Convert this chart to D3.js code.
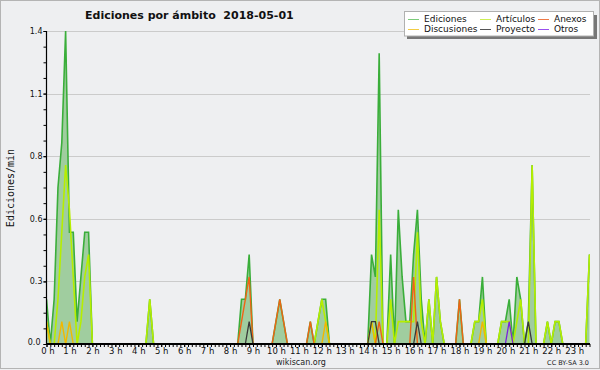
<!DOCTYPE html>
<html lang="es">
<head>
<meta charset="UTF-8">
<title>Ediciones por ámbito</title>
<script src="https://cdn.jsdelivr.net/npm/d3@7"></script>
<style>
  body { margin: 0; background: #fff; }
  svg { display: block; font-family: "DejaVu Sans", sans-serif; }
</style>
</head>
<body>
<div id="chart"></div>
<script>
// ediciones/min por intervalo de 10 minutos, desde 0:00 hasta 23:40 (143 valores)
const ediciones = [
  0.2, 0, 0.2, 0.7, 0.9, 1.4, 0.5, 0.5, 0.1, 0.3, 0.5, 0.5,
  0, 0, 0, 0, 0, 0, 0, 0, 0, 0, 0, 0,
  0, 0, 0, 0.2, 0, 0, 0, 0, 0, 0, 0, 0,
  0, 0, 0, 0, 0, 0, 0, 0, 0, 0, 0, 0,
  0, 0, 0, 0.2, 0.2, 0.4, 0, 0, 0, 0, 0, 0,
  0.1, 0.2, 0.1, 0, 0, 0, 0, 0, 0, 0.1, 0, 0.1,
  0.2, 0.2, 0, 0, 0, 0, 0, 0, 0, 0, 0, 0,
  0, 0.4, 0.3, 1.3, 0, 0, 0.4, 0, 0.6, 0.3, 0.1, 0.1,
  0.4, 0.6, 0.2, 0, 0.2, 0, 0.3, 0.1, 0, 0, 0, 0,
  0.2, 0, 0, 0, 0.1, 0.1, 0.3, 0, 0, 0, 0, 0.1,
  0.1, 0.2, 0, 0.3, 0.2, 0, 0.1, 0.8, 0, 0, 0, 0.1,
  0, 0.1, 0.1, 0, 0, 0, 0, 0, 0, 0, 0.4
];
const articulos = [
  0.1, 0, 0, 0.2, 0.5, 0.8, 0.6, 0.3, 0, 0.1, 0.3, 0.4,
  0, 0, 0, 0, 0, 0, 0, 0, 0, 0, 0, 0,
  0, 0, 0, 0.2, 0, 0, 0, 0, 0, 0, 0, 0,
  0, 0, 0, 0, 0, 0, 0, 0, 0, 0, 0, 0,
  0, 0, 0, 0, 0, 0, 0, 0, 0, 0, 0, 0,
  0, 0, 0, 0, 0, 0, 0, 0, 0, 0, 0, 0.1,
  0.2, 0.1, 0, 0, 0, 0, 0, 0, 0, 0, 0, 0,
  0, 0.1, 0, 0.6, 0, 0, 0.2, 0, 0.1, 0.1, 0.1, 0.1,
  0.1, 0.5, 0.1, 0, 0.2, 0, 0.3, 0.1, 0, 0, 0, 0,
  0, 0, 0, 0, 0.1, 0.1, 0.2, 0, 0, 0, 0, 0.1,
  0.1, 0.1, 0, 0.1, 0.2, 0, 0, 0.8, 0, 0, 0, 0.1,
  0, 0.1, 0.1, 0, 0, 0, 0, 0, 0, 0, 0.4
];
const anexos = [
  0, 0, 0, 0, 0, 0, 0, 0, 0, 0, 0, 0,
  0, 0, 0, 0, 0, 0, 0, 0, 0, 0, 0, 0,
  0, 0, 0, 0, 0, 0, 0, 0, 0, 0, 0, 0,
  0, 0, 0, 0, 0, 0, 0, 0, 0, 0, 0, 0,
  0, 0, 0, 0.1, 0.2, 0.3, 0, 0, 0, 0, 0, 0,
  0.1, 0.2, 0.1, 0, 0, 0, 0, 0, 0, 0.1, 0, 0,
  0, 0, 0, 0, 0, 0, 0, 0, 0, 0, 0, 0,
  0, 0, 0, 0.1, 0, 0, 0, 0, 0, 0, 0, 0,
  0.3, 0, 0, 0, 0, 0, 0, 0, 0, 0, 0, 0,
  0.2, 0, 0, 0, 0, 0, 0, 0, 0, 0, 0, 0,
  0, 0, 0, 0, 0, 0, 0, 0, 0, 0, 0, 0,
  0, 0, 0, 0, 0, 0, 0, 0, 0, 0, 0
];
const discusiones = [
  0.1, 0, 0, 0, 0.1, 0, 0.1, 0, 0, 0, 0, 0,
  0, 0, 0, 0, 0, 0, 0, 0, 0, 0, 0, 0,
  0, 0, 0, 0, 0, 0, 0, 0, 0, 0, 0, 0,
  0, 0, 0, 0, 0, 0, 0, 0, 0, 0, 0, 0,
  0, 0, 0, 0, 0, 0, 0, 0, 0, 0, 0, 0,
  0, 0, 0, 0, 0, 0, 0, 0, 0, 0, 0, 0,
  0, 0.1, 0, 0, 0, 0, 0, 0, 0, 0, 0, 0,
  0, 0.1, 0, 0, 0, 0, 0, 0, 0, 0, 0, 0,
  0, 0, 0, 0, 0, 0, 0, 0, 0, 0, 0, 0,
  0, 0, 0, 0, 0, 0, 0.1, 0, 0, 0, 0, 0,
  0, 0, 0, 0, 0, 0, 0, 0, 0, 0, 0, 0,
  0, 0, 0, 0, 0, 0, 0, 0, 0, 0, 0
];
const proyecto = [
  0, 0, 0, 0, 0, 0, 0, 0, 0, 0, 0, 0,
  0, 0, 0, 0, 0, 0, 0, 0, 0, 0, 0, 0,
  0, 0, 0, 0, 0, 0, 0, 0, 0, 0, 0, 0,
  0, 0, 0, 0, 0, 0, 0, 0, 0, 0, 0, 0,
  0, 0, 0, 0, 0, 0.1, 0, 0, 0, 0, 0, 0,
  0, 0, 0, 0, 0, 0, 0, 0, 0, 0, 0, 0,
  0, 0, 0, 0, 0, 0, 0, 0, 0, 0, 0, 0,
  0, 0.1, 0.1, 0, 0, 0, 0, 0, 0, 0, 0, 0,
  0, 0.1, 0, 0, 0, 0, 0, 0, 0, 0, 0, 0,
  0, 0, 0, 0, 0, 0, 0, 0, 0, 0, 0, 0,
  0, 0, 0, 0, 0, 0, 0.1, 0, 0, 0, 0, 0,
  0, 0, 0, 0, 0, 0, 0, 0, 0, 0, 0
];
const otros = [
  0, 0, 0, 0, 0, 0, 0, 0, 0, 0, 0, 0,
  0, 0, 0, 0, 0, 0, 0, 0, 0, 0, 0, 0,
  0, 0, 0, 0, 0, 0, 0, 0, 0, 0, 0, 0,
  0, 0, 0, 0, 0, 0, 0, 0, 0, 0, 0, 0,
  0, 0, 0, 0, 0, 0, 0, 0, 0, 0, 0, 0,
  0, 0, 0, 0, 0, 0, 0, 0, 0, 0, 0, 0,
  0, 0, 0, 0, 0, 0, 0, 0, 0, 0, 0, 0,
  0, 0, 0, 0, 0, 0, 0, 0, 0, 0, 0, 0,
  0, 0, 0, 0, 0, 0, 0, 0, 0, 0, 0, 0,
  0, 0, 0, 0, 0, 0, 0, 0, 0, 0, 0, 0,
  0, 0.1, 0, 0, 0, 0, 0, 0, 0, 0, 0, 0,
  0, 0, 0, 0, 0, 0, 0, 0, 0, 0, 0
];
const hourLabels = ["0 h", "1 h", "2 h", "3 h", "4 h", "5 h", "6 h", "7 h", "8 h", "9 h", "10 h", "11 h",
  "12 h", "13 h", "14 h", "15 h", "16 h", "17 h", "18 h", "19 h", "20 h", "21 h", "22 h", "23 h"];
const yTicks = [0, 0.28, 0.56, 0.84, 1.12, 1.4];

const width = 600, height = 370;
const pLeft = 46.5, pRight = 590, pTop = 31, pBottom = 344;
const bg = "#eeeff1";

const svg = d3.select("#chart").append("svg")
  .attr("width", width).attr("height", height);

svg.append("rect").attr("width", width).attr("height", height).attr("fill", bg);
svg.append("rect").attr("x", 0.5).attr("y", 0.5).attr("width", 599).attr("height", 368)
  .attr("fill", "none").attr("stroke", "#b4b4b4");

const x = d3.scaleLinear().domain([0, ediciones.length - 1]).range([pLeft, 589.5]);
const y = d3.scaleLinear().domain([0, 1.4]).range([pBottom, pTop]);

svg.append("clipPath").attr("id", "clip").append("rect")
  .attr("x", pLeft).attr("y", pTop - 2).attr("width", pRight - pLeft).attr("height", pBottom - pTop + 2);

// rejilla
svg.append("g").selectAll("line").data(yTicks.slice(1)).join("line")
  .attr("x1", pLeft).attr("x2", pRight)
  .attr("y1", d => Math.round(y(d)) + 0.5).attr("y2", d => Math.round(y(d)) + 0.5)
  .attr("stroke", "#cbcbcb");

const plot = svg.append("g").attr("clip-path", "url(#clip)");

const area = d3.area().x((d, i) => x(i)).y0(pBottom).y1(d => y(d));
const line = d3.line().x((d, i) => x(i)).y(d => y(d));

plot.append("path").datum(ediciones).attr("d", area).attr("fill", "#a0cd9f");

const series = [
  { values: ediciones, color: "#3aae3a", w: 1.6 },
  { values: articulos, color: "#b6ee00", w: 1.6 },
  { values: discusiones, color: "#f2b800", w: 1.4 },
  { values: anexos, color: "#f06414", w: 1.4 },
  { values: proyecto, color: "#3a3a3a", w: 1.3 },
  { values: otros, color: "#7a22dd", w: 1.3 }
];
series.forEach(s => {
  plot.append("path").datum(s.values).attr("d", line)
    .attr("fill", "none").attr("stroke", s.color).attr("stroke-width", s.w)
    .attr("stroke-linejoin", "miter");
});

// eje X
const xMinor = svg.append("g").attr("transform", "translate(0," + pBottom + ")")
  .call(d3.axisBottom(x).tickValues(d3.range(ediciones.length)).tickSize(3).tickFormat(""));
const xAxis = svg.append("g").attr("transform", "translate(0," + pBottom + ")")
  .call(d3.axisBottom(x).tickValues(hourLabels.map((d, i) => i * 6))
    .tickFormat((d, i) => hourLabels[i]).tickSize(3).tickPadding(1));
xAxis.selectAll("text").attr("font-size", 8.5).attr("fill", "#111")
  .attr("font-family", "DejaVu Sans, sans-serif");
xAxis.select(".tick text").attr("dx", 1);
[xMinor, xAxis].forEach(g => g.select(".domain").remove());

// eje Y
const yMinor = svg.append("g").attr("transform", "translate(" + pLeft + ",0)")
  .call(d3.axisLeft(y).tickValues(d3.range(21).map(i => i * 0.07)).tickSize(3).tickFormat(""));
const yAxis = svg.append("g").attr("transform", "translate(" + pLeft + ",0)")
  .call(d3.axisLeft(y).tickValues(yTicks).tickFormat(d3.format(".1f")).tickSize(3).tickPadding(1));
yAxis.selectAll("text").attr("font-size", 8).attr("fill", "#111")
  .attr("font-family", "DejaVu Sans, sans-serif");
yAxis.select(".tick text").attr("dx", -2).attr("dy", "0.1em");
[yMinor, yAxis].forEach(g => g.select(".domain").remove());
svg.selectAll(".tick line").attr("stroke", "#000");

svg.append("line").attr("x1", pLeft).attr("x2", pLeft).attr("y1", pTop).attr("y2", pBottom + 0.5)
  .attr("stroke", "#000").attr("stroke-width", 1.2);
svg.append("line").attr("x1", pLeft - 0.5).attr("x2", pRight).attr("y1", pBottom).attr("y2", pBottom)
  .attr("stroke", "#000").attr("stroke-width", 2);

// textos
svg.append("text").attr("x", 85).attr("y", 18.5)
  .attr("font-size", 11).attr("font-weight", "bold").attr("fill", "#111")
  .attr("xml:space", "preserve")
  .text("Ediciones por ámbito  2018-05-01");

svg.append("text").attr("transform", "translate(13.5,188) rotate(-90)")
  .attr("text-anchor", "middle").attr("font-family", "DejaVu Sans Mono, monospace")
  .attr("font-size", 10).attr("fill", "#111").text("Ediciones/min");

svg.append("text").attr("x", 301).attr("y", 364.5).attr("text-anchor", "middle")
  .attr("font-size", 8).attr("fill", "#222").text("wikiscan.org");
svg.append("text").attr("x", 589).attr("y", 365).attr("text-anchor", "end")
  .attr("font-size", 6.5).attr("fill", "#222").text("CC BY-SA 3.0");

// leyenda
const legend = [
  { name: "Ediciones", color: "#7ccb7a", col: 0, row: 0 },
  { name: "Discusiones", color: "#f2cc44", col: 0, row: 1 },
  { name: "Artículos", color: "#cdee55", col: 1, row: 0 },
  { name: "Proyecto", color: "#555555", col: 1, row: 1 },
  { name: "Anexos", color: "#ee7a48", col: 2, row: 0 },
  { name: "Otros", color: "#9950ee", col: 2, row: 1 }
];
const colX = [408, 480, 538];
const lg = svg.append("g");
lg.append("rect").attr("x", 407).attr("y", 15).attr("width", 190).attr("height", 24).attr("fill", "#777");
lg.append("rect").attr("x", 404.5).attr("y", 11.5).attr("width", 189).attr("height", 24.5)
  .attr("fill", "#fff").attr("stroke", "#b0b0b0");
const items = lg.selectAll("g.item").data(legend).join("g").attr("class", "item")
  .attr("transform", d => "translate(" + colX[d.col] + "," + (19 + d.row * 10) + ")");
items.append("line").attr("x1", 0).attr("x2", 11).attr("y1", 0.5).attr("y2", 0.5)
  .attr("stroke", d => d.color);
items.append("text").attr("x", 16).attr("y", 3.3).attr("font-size", 9).attr("fill", "#111")
  .text(d => d.name);
</script>
</body>
</html>
